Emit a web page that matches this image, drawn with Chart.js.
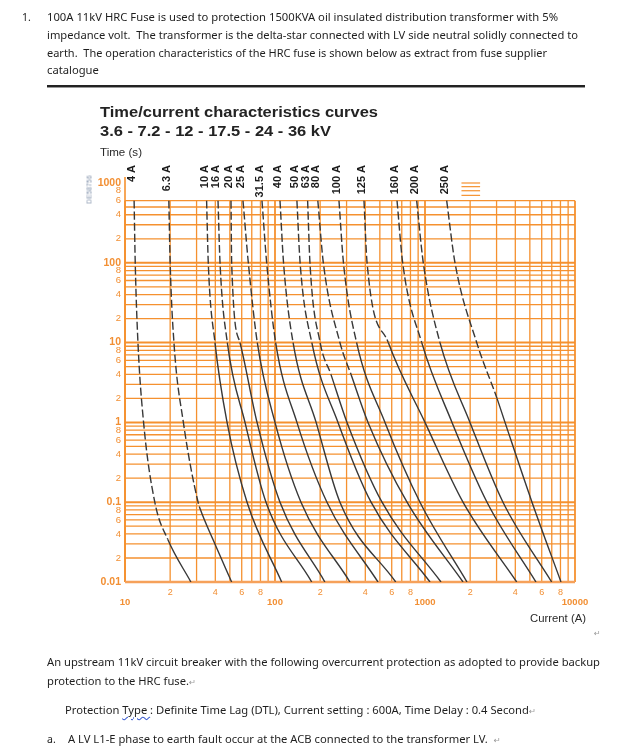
<!DOCTYPE html>
<html>
<head>
<meta charset="utf-8">
<script src="https://cdn.jsdelivr.net/npm/chart.js@4.4.0/dist/chart.umd.min.js"></script>
<style>
body{margin:0;background:#fff;width:620px;height:747px;overflow:hidden;position:relative;font-family:"Noto Sans",sans-serif;color:#1e1e1e}
#c{position:absolute;left:0;top:0}
.t{position:absolute;white-space:nowrap;font-size:10.5px;line-height:14px;transform-origin:0 50%}
.h{font-family:"Liberation Sans",Arial,sans-serif;font-weight:bold;color:#232323;font-size:15px;line-height:18px}
.s{font-family:"Liberation Sans",Arial,sans-serif;color:#2a2a2a;font-size:11px}
.r{font-family:"DejaVu Sans",sans-serif;color:#9a9a9a;font-size:8px}
.rule{position:absolute;left:47px;top:85px;width:538px;height:2px;background:#222;border-bottom:1px solid #999}
.wavy{text-decoration:underline wavy #3a5bd0;text-decoration-thickness:1px;text-underline-offset:2px}
#code{position:absolute;left:74px;top:186px;width:30px;text-align:center;transform:rotate(-90deg);font-family:"Liberation Sans",sans-serif;font-size:6.5px;color:#7d8ea8;letter-spacing:0.2px}
</style>
</head>
<body>
<canvas id="c" width="620" height="747"></canvas>

<div class="t" style="left:22px;top:10px">1.</div>
<div class="t" style="left:47px;top:10px" data-w="511">100A 11kV HRC Fuse is used to protection 1500KVA oil insulated distribution transformer with 5%</div>
<div class="t" style="left:47px;top:28px" data-w="531">impedance volt.&nbsp; The transformer is the delta-star connected with LV side neutral solidly connected to</div>
<div class="t" style="left:47px;top:46px" data-w="500">earth.&nbsp; The operation characteristics of the HRC fuse is shown below as extract from fuse supplier</div>
<div class="t body" style="left:47px;top:63px">catalogue</div>
<div class="rule"></div>

<div class="t h" style="left:100px;top:103px" data-w="278">Time/current characteristics curves</div>
<div class="t h" style="left:100px;top:122px" data-w="231">3.6 - 7.2 - 12 - 17.5 - 24 - 36 kV</div>
<div class="t s" style="left:100px;top:145px" data-w="42">Time (s)</div>
<div id="code">DE58756</div>
<div class="t s" style="left:530px;top:611px" data-w="56">Current (A)</div>
<div class="t r" style="left:594px;top:627px">&#8629;</div>

<div class="t" id="ref" style="left:47px;top:655px" data-w="553">An upstream 11kV circuit breaker with the following overcurrent protection as adopted to provide backup</div>
<div class="t body" style="left:47px;top:674px">protection to the HRC fuse.<span class="r">&#8629;</span></div>
<div class="t body" style="left:65px;top:703px">Protection <span class="wavy">Type </span>: Definite Time Lag (DTL), Current setting : 600A, Time Delay : 0.4 Second<span class="r">&#8629;</span></div>
<div class="t" style="left:47px;top:732px">a.</div>
<div class="t body" style="left:68px;top:732px">A LV L1-E phase to earth fault occur at the ACB connected to the transformer LV.&nbsp; <span class="r">&#8629;</span></div>

<script>
// fuse ratings shown on top of the curves
const fuseLabels = ['4 A', '6.3 A', '10 A', '16 A', '20 A', '25 A', '31.5 A', '40 A', '50 A', '63 A', '80 A', '100 A', '125 A', '160 A', '200 A', '250 A']

// time points (s) of each curve
const secs4 = [600, 100, 10, 1, 0.1, 0.034, 0.01]
const secs6_3 = [600, 100, 10, 1, 0.1, 0.08, 0.034, 0.01]
const secsStd = [600, 100, 10, 1, 0.1, 0.01]
const secs4s = [600, 100, 10, 4, 1, 0.1, 0.01]
const secs2s = [600, 100, 10, 2, 1, 0.1, 0.01]

// current (A) at those times
const amps4 = [11.5, 11.7, 12.2, 13.3, 15.8, 19.3, 27.5]
const amps6_3 = [19.6, 20.0, 21.2, 24.5, 30.7, 31.9, 38.6, 51.4]
const amps10 = [35.0, 35.9, 39.8, 47.9, 65.1, 110.8]
const amps16 = [41.7, 43.0, 48.1, 63.1, 87.1, 175.7]
const amps20 = [50.9, 51.4, 58.4, 75.9, 108, 215]
const amps25 = [61.2, 66.4, 76.2, 100, 149, 316]
const amps31_5 = [81.9, 88.0, 101, 140, 222, 486]
const amps40 = [108, 114, 132, 188, 271, 638]
const amps50 = [140, 147, 176, 263, 437, 1080]
const amps63 = [165, 171, 200, 236, 302, 517, 1278]
const amps80 = [193, 210, 271, 321, 417, 759, 1792]
const amps100 = [267, 286, 350, 541, 926, 1905]
const amps125 = [392, 411, 569, 1000, 1792, 4087]
const amps160 = [651, 710, 951, 1514, 2591, 5495]
const amps200 = [880, 974, 1259, 1995, 3311, 6992]
const amps250 = [1395, 1585, 2212, 3020, 3415, 5168, 8066]

// curve is dashed above this time (s)
const dashUntil = [0.034, 0.08, 10, 10, 10, 10, 10, 10, 10, 4, 4, 10, 10, 10, 10, 2]

const fuseSecs = [secs4, secs6_3, secsStd, secsStd, secsStd, secsStd, secsStd, secsStd, secsStd, secs4s, secs4s, secsStd, secsStd, secsStd, secsStd, secs2s]
const fuseAmps = [amps4, amps6_3, amps10, amps16, amps20, amps25, amps31_5, amps40, amps50, amps63, amps80, amps100, amps125, amps160, amps200, amps250]

// axes
const yDecades = [0.01, 0.1, 1, 10, 100, 1000]
const xDecades = [10, 100, 1000, 10000]
const steps = [1, 2, 3, 4, 5, 6, 7, 8, 9]
const labelledSteps = [2, 4, 6, 8]
const gridTop = 600

function buildTicks(decades){
    let ticks = []
    decades.forEach((d, i) => {
        if(i == decades.length - 1){
            ticks.push({value: d, m: 1, d: d})
            return
        }
        steps.forEach(m => ticks.push({value: Number((d * m).toPrecision(3)), m: m, d: d}))
    })
    return ticks
}
const yTicks = buildTicks(yDecades)
const xTicks = buildTicks(xDecades)

const orange = '#f28f33'
const gridColor = '#f5912f'

const gridPlugin = {
    id: 'fuseGrid',
    beforeDatasetsDraw(chart){
        const {ctx, scales: {x, y}} = chart
        const x0 = x.getPixelForValue(10), x1 = x.getPixelForValue(10000)
        const yTop = y.getPixelForValue(gridTop), yBot = y.getPixelForValue(0.01)
        ctx.save()
        ctx.strokeStyle = gridColor
        yTicks.filter(t => t.value <= gridTop).forEach(t => {
            let py = y.getPixelForValue(t.value)
            ctx.lineWidth = t.m == 1 ? 2 : 1.3
            ctx.beginPath(); ctx.moveTo(x0, py); ctx.lineTo(x1, py); ctx.stroke()
        })
        xTicks.forEach(t => {
            let px = x.getPixelForValue(t.value)
            ctx.lineWidth = t.m == 1 ? 1.8 : 1.3
            ctx.beginPath(); ctx.moveTo(px, yTop); ctx.lineTo(px, yBot); ctx.stroke()
        })
        // short lines at top right above the grid
        ctx.lineWidth = 1.2
        ;[700, 800, 900, 1000].forEach(v => {
            let py = y.getPixelForValue(v)
            ctx.beginPath(); ctx.moveTo(x.getPixelForValue(1750), py); ctx.lineTo(x.getPixelForValue(2330), py); ctx.stroke()
        })
        // left axis and bottom axis
        ctx.lineWidth = 1.6
        ctx.beginPath(); ctx.moveTo(x0, y.getPixelForValue(1000) - 6); ctx.lineTo(x0, yBot); ctx.stroke()
        ctx.strokeStyle = '#f6a15a'
        ctx.lineWidth = 2.6
        ctx.beginPath(); ctx.moveTo(x0, yBot); ctx.lineTo(x1, yBot); ctx.stroke()
        ctx.restore()
    }
}

const labelPlugin = {
    id: 'fuseLabels',
    afterDatasetsDraw(chart){
        const {ctx, scales: {x}} = chart
        ctx.save()
        ctx.fillStyle = '#1c1c1c'
        ctx.font = 'bold 11px "Liberation Sans", Arial, sans-serif'
        ctx.textAlign = 'right'
        ctx.textBaseline = 'middle'
        fuseLabels.forEach((name, i) => {
            let px = x.getPixelForValue(fuseAmps[i][0]) - 2
            ctx.save()
            ctx.translate(px, 165)
            ctx.rotate(-Math.PI / 2)
            ctx.fillText(name, 0, 0)
            ctx.restore()
        })
        ctx.restore()
    }
}

const datasets = fuseLabels.map((name, i) => ({
    label: name,
    data: fuseSecs[i].map((s, k) => ({x: fuseAmps[i][k], y: s})),
    showLine: true,
    borderColor: '#383838',
    borderWidth: 1.4,
    pointRadius: 0,
    cubicInterpolationMode: 'monotone',
    segment: {
        borderDash: ctx => ctx.p1.parsed.y >= dashUntil[i] * 0.999 ? [8, 3] : undefined
    }
}))

Chart.defaults.font.family = '"Liberation Sans", Arial, sans-serif'

new Chart(document.getElementById('c'), {
    type: 'scatter',
    data: {datasets},
    options: {
        responsive: false,
        animation: false,
        layout: {padding: {top: 183, left: 85, right: 45, bottom: 135}},
        plugins: {legend: {display: false}, tooltip: {enabled: false}},
        scales: {
            x: {
                type: 'logarithmic',
                min: 10,
                max: 10000,
                grid: {display: false, drawTicks: false, tickLength: 0},
                border: {display: false},
                afterFit: scale => { scale.height = 30 },
                afterBuildTicks: scale => { scale.ticks = xTicks.map(t => ({value: t.value})) },
                ticks: {
                    autoSkip: false,
                    maxRotation: 0,
                    padding: 5,
                    color: orange,
                    font: ctx => xTicks[ctx.index] && xTicks[ctx.index].m == 1
                        ? {size: 9.5, weight: 'bold', lineHeight: 1.08}
                        : {size: 9, lineHeight: 1.2},
                    callback: (value, index) => {
                        let t = xTicks[index]
                        if(t.m == 1) return ['', String(t.d)]
                        return labelledSteps.includes(t.m) ? String(t.m) : ''
                    }
                }
            },
            y: {
                type: 'logarithmic',
                min: 0.01,
                max: 1000,
                grid: {display: false, drawTicks: false, tickLength: 0},
                border: {display: false},
                afterFit: scale => { scale.width = 40 },
                afterBuildTicks: scale => { scale.ticks = yTicks.map(t => ({value: t.value})) },
                ticks: {
                    autoSkip: false,
                    padding: 4,
                    color: orange,
                    font: ctx => yTicks[ctx.index] && yTicks[ctx.index].m == 1
                        ? {size: 10.5, weight: 'bold'}
                        : {size: 9.5},
                    callback: (value, index) => {
                        let t = yTicks[index]
                        if(t.m == 1) return String(t.d)
                        return labelledSteps.includes(t.m) ? String(t.m) : ''
                    }
                }
            }
        }
    },
    plugins: [gridPlugin, labelPlugin]
})

// stretch the wrapped lines to the width they have in the page,
// the short lines get the same squeeze as the first paragraph line
let bodyScale = 1
document.querySelectorAll('[data-w]').forEach(el => {
    let w = el.getBoundingClientRect().width
    if(w > 0){
        let s = el.dataset.w / w
        el.style.transform = `scaleX(${s})`
        if(el.id == 'ref') bodyScale = s
    }
})
document.querySelectorAll('.body').forEach(el => { el.style.transform = `scaleX(${bodyScale})` })
</script>
</body>
</html>
